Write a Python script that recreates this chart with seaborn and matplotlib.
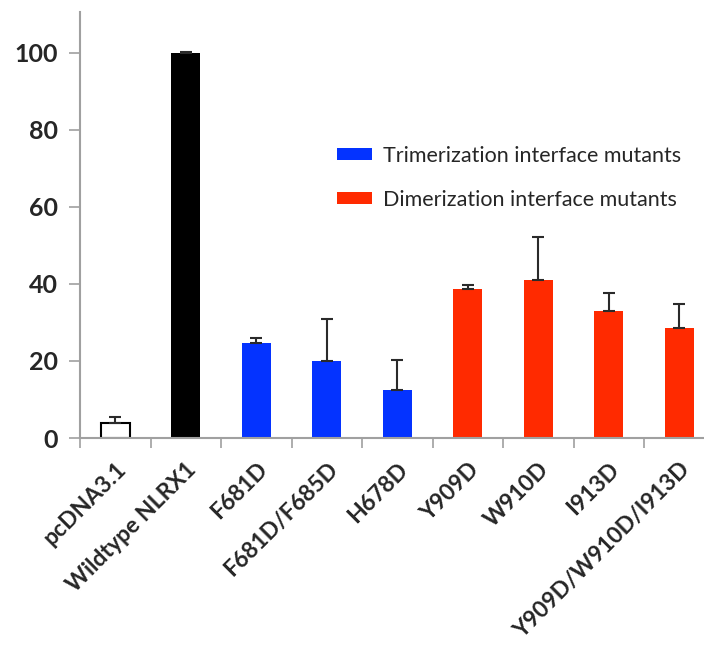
import matplotlib
matplotlib.use("Agg")
import matplotlib.pyplot as plt
import seaborn as sns
import numpy as np
from matplotlib.patches import Patch

categories = ["pcDNA3.1", "Wildtype NLRX1", "F681D", "F681D/F685D", "H678D",
              "Y909D", "W910D", "I913D", "Y909D/W910D/I913D"]
values = [4.0, 100.0, 24.6, 20.1, 12.5, 38.6, 40.9, 33.0, 28.6]
errors = [1.5, 0.2, 1.4, 10.7, 7.8, 1.1, 11.4, 4.6, 6.2]
bar_colors = ["#FFFFFF", "#000000", "#0433FF", "#0433FF", "#0433FF",
              "#FF2A00", "#FF2A00", "#FF2A00", "#FF2A00"]
y_ticks = [0, 20, 40, 60, 80, 100]
legend_labels = ["Trimerization interface mutants", "Dimerization interface mutants"]
legend_colors = ["#0433FF", "#FF2A00"]

sns.set_theme(style="white")
plt.rcParams["font.family"] = ["Lato", "DejaVu Sans"]

fig = plt.figure(figsize=(7.04, 6.6), dpi=100)
ax = fig.add_axes([80/704, 1-438/660, 634.5/704, 426/660])

sns.barplot(x=categories, y=values, hue=categories, palette=bar_colors,
            width=0.41, legend=False, ax=ax, saturation=1, linewidth=0)
for i, p in enumerate(ax.patches[:len(categories)]):
    if i == 0:
        p.set_edgecolor("#000000")
        p.set_linewidth(1.5)
ax.errorbar(np.arange(len(categories)), values,
            yerr=[np.zeros(len(errors)), errors], fmt="none",
            ecolor="#2a2a2a", elinewidth=1.5, capsize=4, capthick=1.5, zorder=1)

ax.set_xlim(-0.5, 8.5)
ax.set_ylim(0, 110.6)
ax.set_yticks(y_ticks)
ax.set_yticklabels([str(t) for t in y_ticks], fontsize=18, fontweight="bold")
ax.set_xticks(np.arange(len(categories)))
ax.set_xticklabels(categories, rotation=45, ha="right", rotation_mode="anchor",
                   fontsize=16.5, fontweight="bold")
ax.set_xticks(np.arange(len(categories)) - 0.5, minor=True)
ax.tick_params(axis="x", which="major", length=0, pad=15)
ax.tick_params(axis="x", which="minor", length=7, width=1.2, color="#A0A0A0",
               direction="out", bottom=True)
ax.tick_params(axis="y", length=8, width=1.2, color="#A0A0A0", left=True,
               direction="out", pad=8)
for s in ["top", "right"]:
    ax.spines[s].set_visible(False)
for s in ["left", "bottom"]:
    ax.spines[s].set_color("#A0A0A0")
    ax.spines[s].set_linewidth(1.5)
ax.set_xlabel("")
ax.set_ylabel("")

handles = [Patch(facecolor=c, edgecolor="none") for c in legend_colors]
ax.legend(handles, legend_labels, loc="upper left",
          bbox_to_anchor=((337 - 80)/634.5, (438 - 146)/426),
          frameon=False, fontsize=15.5, handlelength=1.63, handleheight=0.5,
          handletextpad=0.5, labelspacing=1.1, borderpad=0, borderaxespad=0)

fig.savefig("out.png", dpi=100)
